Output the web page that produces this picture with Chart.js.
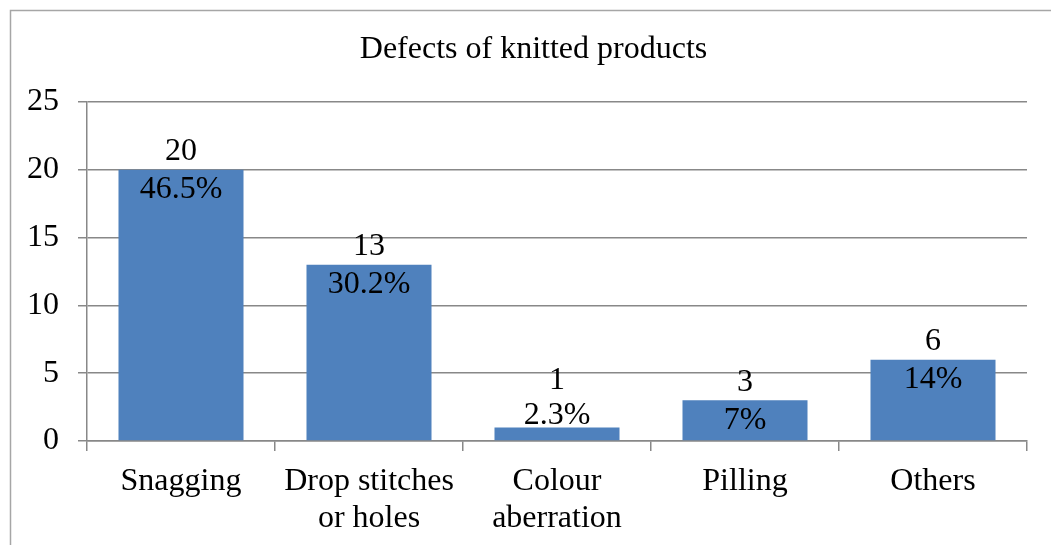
<!DOCTYPE html>
<html>
<head>
<meta charset="utf-8">
<script src="https://cdn.jsdelivr.net/npm/chart.js@4"></script>
<style>
  html, body { margin: 0; padding: 0; background: #fff; }
  canvas { display: block; }
</style>
</head>
<body>
<canvas id="c" width="1051" height="545"></canvas>
<script>
const titleText = "Defects of knitted products";
const categories = [["Snagging"], ["Drop stitches", "or holes"], ["Colour", "aberration"], ["Pilling"], ["Others"]];
const counts = [20, 13, 1, 3, 6];
const percents = ["46.5%", "30.2%", "2.3%", "7%", "14%"];
const yTicks = [0, 5, 10, 15, 20, 25];

const FONT = "'Liberation Serif', 'Times New Roman', serif";
const GRID = "#888888";

const framePlugin = {
  id: "frame",
  beforeDraw(chart) {
    const ctx = chart.ctx;
    ctx.save();
    ctx.fillStyle = "#ffffff";
    ctx.fillRect(0, 0, chart.width, chart.height);
    ctx.strokeStyle = "#a6a6a6";
    ctx.lineWidth = 1.5;
    ctx.strokeRect(10.5, 10.5, chart.width + 20, chart.height + 20);
    ctx.restore();
  }
};

const labelPlugin = {
  id: "barLabels",
  afterDatasetsDraw(chart) {
    const ctx = chart.ctx;
    const meta = chart.getDatasetMeta(0);
    ctx.save();
    ctx.font = "32px " + FONT;
    ctx.fillStyle = "#000000";
    ctx.textAlign = "center";
    ctx.textBaseline = "middle";
    meta.data.forEach((bar, i) => {
      const h = bar.base - bar.y;
      let l1, l2;
      if (h < 30) { l2 = bar.y - 13; l1 = l2 - 35; }
      else { l1 = bar.y - 19; l2 = bar.y + 19; }
      ctx.fillText(String(counts[i]), bar.x, l1 + 1);
      ctx.fillText(percents[i], bar.x, l2 + 1);
    });
    ctx.restore();
  }
};

new Chart(document.getElementById("c"), {
  type: "bar",
  data: {
    labels: categories,
    datasets: [{
      data: counts,
      backgroundColor: "#4F81BD",
      borderWidth: 0,
      categoryPercentage: 0.665,
      barPercentage: 1
    }]
  },
  plugins: [framePlugin, labelPlugin],
  options: {
    responsive: false,
    animation: false,
    layout: { padding: { left: 16, right: 0, top: 0, bottom: 0 } },
    plugins: {
      legend: { display: false },
      tooltip: { enabled: false },
      title: {
        display: true,
        text: titleText,
        color: "#000000",
        font: { family: FONT, size: 32, weight: "normal", lineHeight: 1.2 },
        padding: { top: 30.8, bottom: 32.8 }
      }
    },
    scales: {
      x: {
        grid: { display: true, drawOnChartArea: false, drawTicks: true, tickLength: 10, color: GRID, lineWidth: 1.5, offset: true },
        border: { display: true, color: GRID, width: 1.5 },
        ticks: { color: "#000000", font: { family: FONT, size: 32, lineHeight: 1.13 }, padding: 13, maxRotation: 0, autoSkip: false },
        afterFit(s) { s.height = 104; }
      },
      y: {
        min: 0, max: 25,
        afterBuildTicks(s) { s.ticks = yTicks.map(v => ({ value: v })); },
        grid: { color: GRID, lineWidth: 1.5, tickLength: 9 },
        border: { display: true, color: GRID, width: 1.5 },
        ticks: { color: "#000000", font: { family: FONT, size: 32 }, padding: 19 },
        afterFit(s) { s.width = 71; }
      },
      y2: {
        position: "right",
        display: true,
        grid: { display: false },
        border: { display: false },
        ticks: { display: false },
        afterFit(s) { s.width = 24; }
      }
    }
  }
});
</script>
</body>
</html>
